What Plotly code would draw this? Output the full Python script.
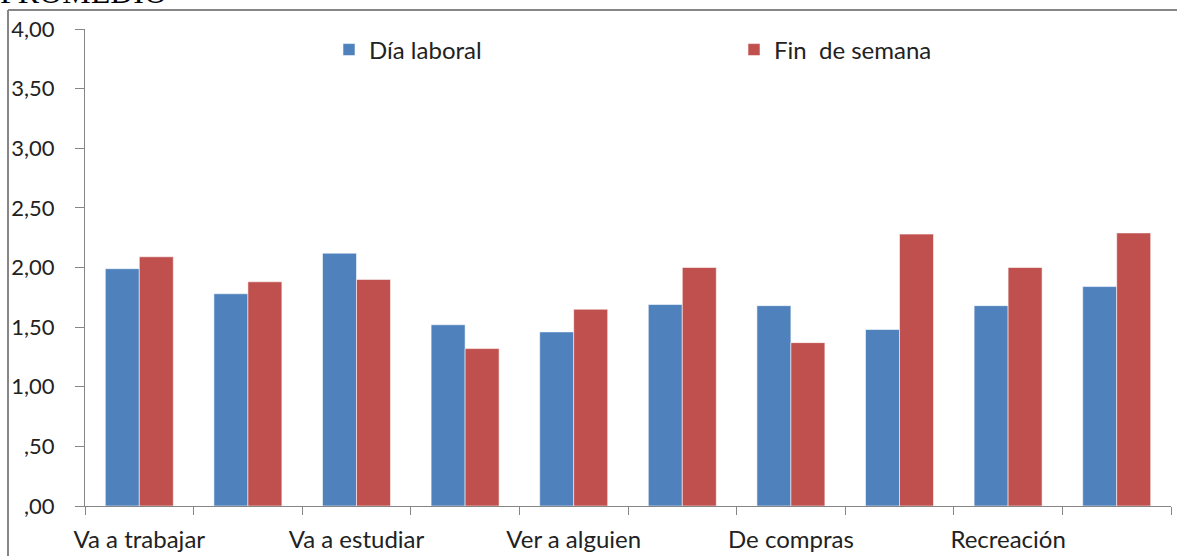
import plotly.graph_objects as go

# Travel purposes (only every other label is printed on the axis)
tick_labels = ["Va a trabajar", "", "Va a estudiar", "", "Ver a alguien", "",
               "De compras", "", "Recreación", ""]
dia_laboral = [1.99, 1.78, 2.12, 1.52, 1.46, 1.69, 1.68, 1.48, 1.68, 1.84]
fin_semana = [2.09, 1.88, 1.90, 1.32, 1.65, 2.00, 1.37, 2.28, 2.00, 2.29]
y_ticks = [0, 0.5, 1, 1.5, 2, 2.5, 3, 3.5, 4]
y_tick_text = [",00", ",50", "1,00", "1,50", "2,00", "2,50", "3,00", "3,50", "4,00"]

W, H = 1177, 556
ML, MR, MT, MB = 85, 6, 29, 50
PW, PH = W - ML - MR, H - MT - MB
FONT = "Lato"
FS = 24
TXT = "#222222"
AXIS_GRAY = "#868686"


def px_x(p):
    return (p - ML) / PW


def px_y(p):
    return 1 - (p - MT) / PH


pos = list(range(len(tick_labels)))
edge = dict(color="rgba(255,255,255,0.55)", width=1)

fig = go.Figure()
fig.add_trace(go.Bar(x=pos, y=dia_laboral, name="Día laboral", legend="legend",
                     marker=dict(color="#4F81BD", line=edge)))
fig.add_trace(go.Bar(x=pos, y=fin_semana, name="Fin  de semana", legend="legend2",
                     marker=dict(color="#C0504D", line=edge)))

legend_common = dict(orientation="h", xanchor="left", yanchor="middle",
                     y=px_y(50), font=dict(family=FONT, size=FS, color=TXT),
                     bgcolor="rgba(0,0,0,0)", borderwidth=0)

shown = [p for p, t in zip(pos, tick_labels) if t]
fig.update_layout(
    width=W, height=H,
    margin=dict(l=ML, r=MR, t=MT, b=MB, autoexpand=False),
    paper_bgcolor="white", plot_bgcolor="white",
    barmode="group", bargap=0.374, bargroupgap=0,
    font=dict(family=FONT, size=FS, color=TXT),
    showlegend=True,
    legend=dict(x=px_x(329), **legend_common),
    legend2=dict(x=px_x(734), **legend_common),
    xaxis=dict(range=[-0.5, len(pos) - 0.5], automargin=False,
               tickmode="array", tickvals=shown,
               ticktext=[tick_labels[p] for p in shown],
               ticks="", ticklabelstandoff=12,
               showline=True, linecolor=AXIS_GRAY, linewidth=1,
               showgrid=False, zeroline=False,
               minor=dict(tickmode="array",
                          tickvals=[p - 0.5 for p in pos] + [pos[-1] + 0.5],
                          ticks="outside", ticklen=8, tickcolor=AXIS_GRAY, showgrid=False),
               tickfont=dict(family=FONT, size=FS, color=TXT)),
    yaxis=dict(range=[0, 4], automargin=False,
               tickmode="array", tickvals=y_ticks, ticktext=y_tick_text,
               ticks="outside", ticklen=9, tickcolor=AXIS_GRAY,
               showline=True, linecolor=AXIS_GRAY, linewidth=1,
               showgrid=False, zeroline=False, ticklabelstandoff=16,
               tickfont=dict(family=FONT, size=22, color=TXT)),
)

# chart frame (left and top edges visible)
fig.add_shape(type="line", xref="paper", yref="paper",
              x0=px_x(8), x1=px_x(W + 5), y0=px_y(10), y1=px_y(10),
              line=dict(color=AXIS_GRAY, width=2))
fig.add_shape(type="line", xref="paper", yref="paper",
              x0=px_x(8), x1=px_x(8), y0=px_y(10), y1=px_y(H + 5),
              line=dict(color=AXIS_GRAY, width=2))

fig.add_annotation(text="PROMEDIO", xref="paper", yref="paper",
                   x=px_x(-2), xanchor="left",
                   y=px_y(12), yanchor="bottom",
                   showarrow=False,
                   font=dict(family="Liberation Serif", size=32, color="#000000"))

fig.write_html("out.html")
